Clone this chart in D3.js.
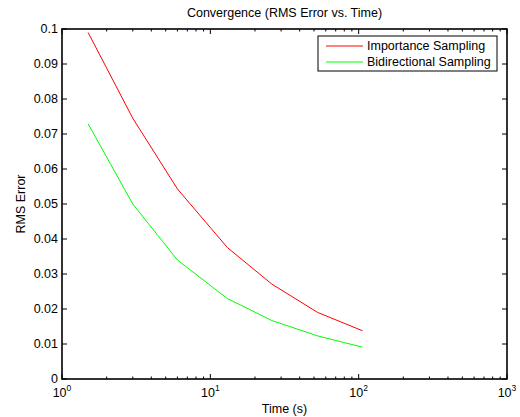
<!DOCTYPE html>
<html>
<head>
<meta charset="utf-8">
<script src="https://cdn.jsdelivr.net/npm/d3@7"></script>
<style>
  body { margin: 0; background: #fff; }
  svg { font-family: "Liberation Sans", Arial, Helvetica, sans-serif; }
</style>
</head>
<body>
<svg id="chart"></svg>
<script>
// Data
const times = [1.5, 3, 6, 13, 26, 53, 106];
const importance = [0.0990, 0.0745, 0.0543, 0.0376, 0.0271, 0.0190, 0.0138];
const bidirectional = [0.0729, 0.0500, 0.0340, 0.0230, 0.0167, 0.0123, 0.0091];
const seriesNames = ["Importance Sampling", "Bidirectional Sampling"];
const seriesColors = ["#ff0000", "#00ff00"];
const yTicks = [0, 0.01, 0.02, 0.03, 0.04, 0.05, 0.06, 0.07, 0.08, 0.09, 0.1];
const xTicks = [1, 10, 100, 1000];

const width = 520, height = 417;
const margin = { top: 29, right: 13, bottom: 38, left: 62 };
const fs = 12.5;

const svg = d3.select("#chart").attr("width", width).attr("height", height);

const x = d3.scaleLog().domain([1, 1000]).range([margin.left, width - margin.right]);
const y = d3.scaleLinear().domain([0, 0.1]).range([height - margin.bottom, margin.top]);

const x0 = x.range()[0], x1 = x.range()[1];
const y0 = y.range()[0], y1 = y.range()[1];

// minor ticks for log axis
const minor = [];
for (let d = 1; d < 1000; d *= 10) for (let k = 2; k < 10; k++) minor.push(d * k);

const ticks = svg.append("g").attr("stroke", "#000").attr("stroke-width", 1);
// x ticks, bottom and top, pointing in
ticks.selectAll(".xmaj").data(xTicks).join("line")
  .attr("x1", d => x(d)).attr("x2", d => x(d)).attr("y1", y0).attr("y2", y0 - 5);
ticks.selectAll(".xmajt").data(xTicks).join("line")
  .attr("x1", d => x(d)).attr("x2", d => x(d)).attr("y1", y1).attr("y2", y1 + 5);
ticks.selectAll(".xmin").data(minor).join("line")
  .attr("x1", d => x(d)).attr("x2", d => x(d)).attr("y1", y0).attr("y2", y0 - 2.5);
ticks.selectAll(".xmint").data(minor).join("line")
  .attr("x1", d => x(d)).attr("x2", d => x(d)).attr("y1", y1).attr("y2", y1 + 2.5);
// y ticks, left and right
ticks.selectAll(".yl").data(yTicks).join("line")
  .attr("x1", x0).attr("x2", x0 + 5).attr("y1", d => y(d)).attr("y2", d => y(d));
ticks.selectAll(".yr").data(yTicks).join("line")
  .attr("x1", x1).attr("x2", x1 - 5).attr("y1", d => y(d)).attr("y2", d => y(d));

// box
svg.append("rect")
  .attr("x", x0).attr("y", y1).attr("width", x1 - x0).attr("height", y0 - y1)
  .attr("fill", "none").attr("stroke", "#000").attr("stroke-width", 1.6);

// y tick labels
svg.append("g").selectAll("text").data(yTicks).join("text")
  .attr("x", x0 - 4).attr("y", d => y(d)).attr("dy", "0.35em")
  .attr("text-anchor", "end").attr("font-size", fs)
  .text(d => d3.format("")(d));

// x tick labels with superscript exponents
const xl = svg.append("g").selectAll("text").data(xTicks).join("text")
  .attr("x", d => x(d)).attr("y", y0 + 18)
  .attr("text-anchor", "middle").attr("font-size", fs);
xl.append("tspan").text("10");
xl.append("tspan").attr("dy", -6).attr("font-size", 8.5).text(d => Math.round(Math.log10(d)));

// axis titles
svg.append("text").attr("x", (x0 + x1) / 2).attr("y", 13).attr("dy", "0.35em")
  .attr("text-anchor", "middle").attr("font-size", fs)
  .text("Convergence (RMS Error vs. Time)");
svg.append("text").attr("x", (x0 + x1) / 2).attr("y", y0 + 34)
  .attr("text-anchor", "middle").attr("font-size", fs).text("Time (s)");
svg.append("text")
  .attr("transform", `translate(25,${(y0 + y1) / 2}) rotate(-90)`)
  .attr("text-anchor", "middle").attr("font-size", fs).text("RMS Error");

// lines
const line = d3.line().x(d => x(d[0])).y(d => y(d[1]));
[importance, bidirectional].forEach((vals, i) => {
  svg.append("path")
    .datum(times.map((t, j) => [t, vals[j]]))
    .attr("fill", "none").attr("stroke", seriesColors[i]).attr("stroke-width", 1)
    .attr("d", line);
});

// legend
const lg = svg.append("g").attr("transform", "translate(318,36)");
lg.append("rect").attr("width", 179).attr("height", 35)
  .attr("fill", "#fff").attr("stroke", "#000").attr("stroke-width", 1);
seriesNames.forEach((name, i) => {
  const ry = 10 + i * 16;
  lg.append("line").attr("x1", 8).attr("x2", 45).attr("y1", ry).attr("y2", ry)
    .attr("stroke", seriesColors[i]).attr("stroke-width", 1);
  lg.append("text").attr("x", 49).attr("y", ry).attr("dy", "0.35em")
    .attr("font-size", fs).text(name);
});
</script>
</body>
</html>
